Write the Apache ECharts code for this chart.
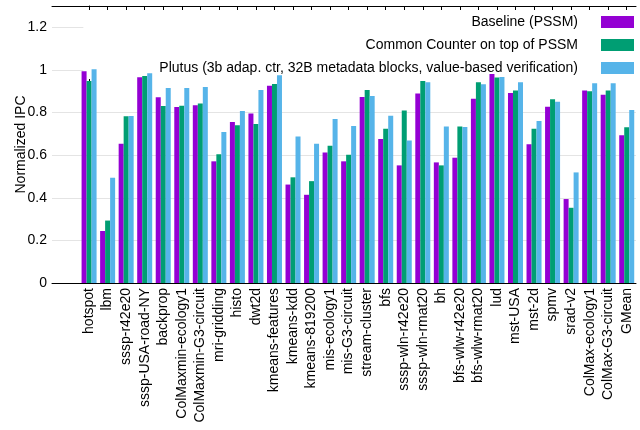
<!DOCTYPE html>
<html>
<head>
<meta charset="utf-8">
<script src="https://cdn.jsdelivr.net/npm/echarts@6/dist/echarts.min.js"></script>
<style>
html,body{margin:0;padding:0;background:#fff;}
#chart{width:640px;height:430px;}
</style>
</head>
<body>
<div id="chart"></div>
<script>
const categories = ["hotspot","lbm","sssp-r42e20","sssp-USA-road-NY","backprop","ColMaxmin-ecology1","ColMaxmin-G3-circuit","mri-gridding","histo","dwt2d","kmeans-features","kmeans-kdd","kmeans-819200","mis-ecology1","mis-G3-circuit","stream-cluster","bfs","sssp-wln-r42e20","sssp-wln-rmat20","bh","bfs-wlw-r42e20","bfs-wlw-rmat20","lud","mst-USA","mst-2d","spmv","srad-v2","ColMax-ecology1","ColMax-G3-circuit","GMean"];
const baseline = [0.994,0.244,0.654,0.966,0.872,0.826,0.834,0.571,0.756,0.795,0.926,0.462,0.414,0.613,0.571,0.873,0.676,0.552,0.889,0.566,0.588,0.865,0.981,0.892,0.651,0.827,0.394,0.904,0.884,0.693];
const common = [0.948,0.293,0.782,0.972,0.831,0.832,0.843,0.604,0.740,0.746,0.934,0.496,0.478,0.644,0.602,0.906,0.724,0.810,0.948,0.552,0.735,0.942,0.964,0.904,0.724,0.862,0.353,0.900,0.904,0.731];
const plutus = [1.003,0.494,0.784,0.984,0.915,0.915,0.920,0.709,0.807,0.906,0.975,0.687,0.654,0.770,0.737,0.878,0.785,0.669,0.942,0.735,0.732,0.933,0.967,0.942,0.760,0.851,0.519,0.937,0.937,0.812];
const seriesNames = ["Baseline (PSSM)","Common Counter on top of PSSM","Plutus (3b adap. ctr, 32B metadata blocks, value-based verification)"];
const yTicks = [0,0.2,0.4,0.6,0.8,1,1.2];

const FONT = "Liberation Sans";
const colors = ["#9400D3","#009E73","#56B4E9"];
const xMin = -2, xMax = 29.5;
const halfSteps = [];
for (let v = xMin; v <= xMax + 1e-9; v += 0.5) halfSteps.push(String(v));

const chart = echarts.init(document.getElementById('chart'));
const mk = (name, vals, i) => ({
  name: name,
  type: 'bar',
  xAxisIndex: 0,
  barWidth: 5,
  barGap: '0%',
  z: 2,
  itemStyle: {color: colors[i]},
  data: vals.map((v, k) => [k, v])
});
chart.setOption({
  animation: false,
  color: colors,
  textStyle: {fontFamily: FONT},
  grid: {left: 52, right: 4, top: 6, bottom: 147, containLabel: false, outerBoundsMode: 'none'},
  legend: {
    orient: 'vertical',
    right: 0,
    top: 7,
    align: 'right',
    z: 1,
    backgroundColor: '#fff',
    padding: [8, 6, 4, 76],
    itemGap: 9,
    itemWidth: 33,
    itemHeight: 12,
    icon: 'rect',
    selectedMode: false,
    textStyle: {fontFamily: FONT, fontSize: 14, color: '#000', lineHeight: 12, padding: [0, 18, 0, 0]},
    data: seriesNames
  },
  xAxis: [
    {
      type: 'value',
      min: xMin, max: xMax, interval: 1,
      position: 'bottom',
      z: 0,
      axisLine: {show: true, lineStyle: {color: '#000', width: 1}},
      axisTick: {show: false},
      splitLine: {show: false},
      axisLabel: {
        rotate: 90, margin: 5, fontSize: 14, color: '#000', fontFamily: FONT,
        showMinLabel: true, showMaxLabel: true, hideOverlap: false,
        formatter: v => (Number.isInteger(v) && v >= 0 && v < categories.length) ? categories[v] : ''
      }
    },
    {
      type: 'category',
      position: 'top',
      boundaryGap: false,
      z: 5,
      data: halfSteps,
      axisLine: {show: true, lineStyle: {color: '#000', width: 1}},
      axisTick: {show: true, inside: true, length: 4, lineStyle: {color: '#000'},
        interval: (i) => i >= 4 && i % 2 === 0 && i <= 62},
      axisLabel: {show: false},
      splitLine: {show: false}
    }
  ],
  yAxis: {
    type: 'value',
    min: 0, max: 1.3, interval: 0.2,
    z: 0,
    name: 'Normalized IPC',
    nameLocation: 'middle',
    nameGap: 24,
    nameMoveOverlap: false,
    nameTextStyle: {fontSize: 14, color: '#000', fontFamily: FONT},
    axisLine: {show: true, lineStyle: {color: '#000', width: 1}},
    axisTick: {show: false},
    splitLine: {show: true, lineStyle: {color: '#e4e4e4', width: 1}},
    axisLabel: {
      margin: 5, fontSize: 14, color: '#000', fontFamily: FONT,
      showMaxLabel: false,
      formatter: v => {
        const t = yTicks.find(x => Math.abs(x - v) < 1e-6);
        return t === undefined ? '' : String(t);
      }
    }
  },
  series: [mk(seriesNames[0], baseline, 0), mk(seriesNames[1], common, 1), mk(seriesNames[2], plutus, 2)]
});
</script>
</body>
</html>
